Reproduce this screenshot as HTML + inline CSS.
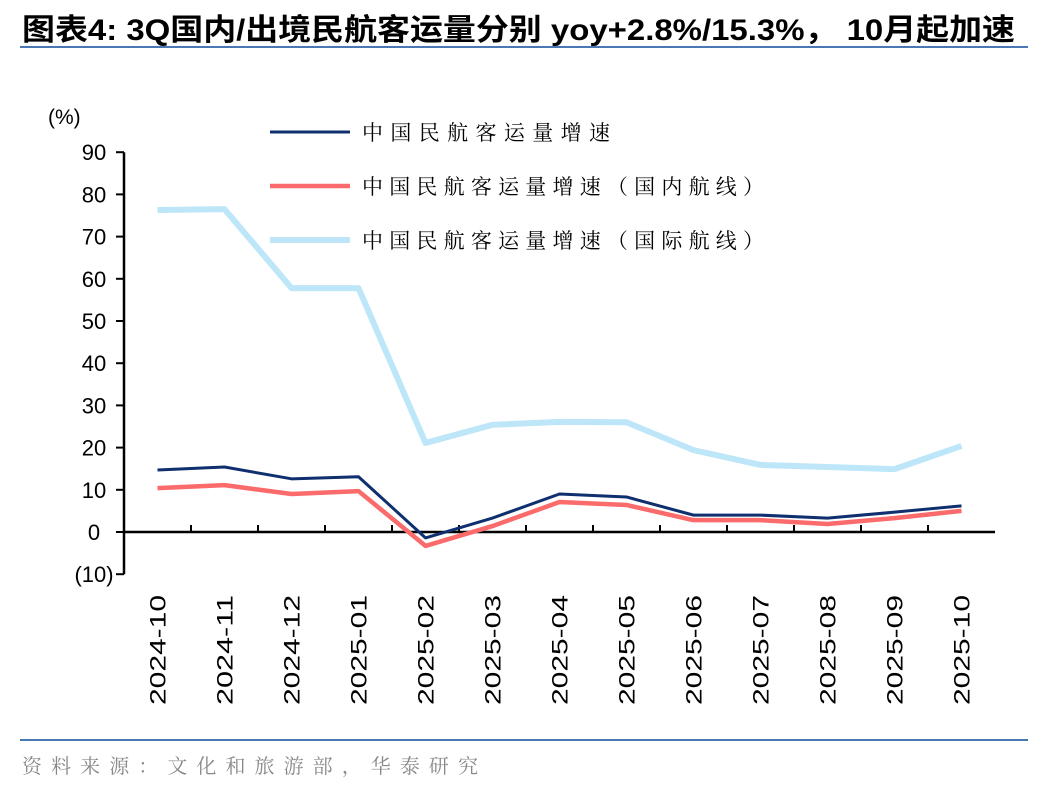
<!DOCTYPE html>
<html><head><meta charset="utf-8"><style>
body{margin:0;background:#fff;width:1048px;height:792px;overflow:hidden;font-family:"Liberation Sans","Noto Sans CJK SC",sans-serif;}
</style></head><body>
<svg width="1048" height="792" xmlns="http://www.w3.org/2000/svg">
<text x="22" y="40" font-size="30" font-weight="bold" fill="#000" textLength="993" lengthAdjust="spacingAndGlyphs" font-family="Liberation Sans, Noto Sans CJK SC, sans-serif">图表4:  3Q国内/出境民航客运量分别 yoy+2.8%/15.3%， 10月起加速</text>
<line x1="20" y1="47" x2="1028" y2="47" stroke="#4a78b5" stroke-width="2"/>
<line x1="20" y1="740" x2="1028" y2="740" stroke="#4a78b5" stroke-width="2"/>
<text x="22" y="773" font-size="20" fill="#888" textLength="456" lengthAdjust="spacing" font-family="Noto Serif CJK SC, serif">资料来源：文化和旅游部，华泰研究</text>
<text x="48" y="124" font-size="21">(%)</text>
<g id="axes"></g>
<g id="legend"></g>
</svg>
<script>
const categories=["2024-10","2024-11","2024-12","2025-01","2025-02","2025-03","2025-04","2025-05","2025-06","2025-07","2025-08","2025-09","2025-10"];
const totalSeries=[14.7,15.4,12.6,13.1,-1.4,3.3,9.0,8.3,4.0,4.0,3.3,4.7,6.2];
const domesticSeries=[10.4,11.1,9.0,9.7,-3.3,1.4,7.1,6.4,2.8,2.8,1.9,3.3,5.0];
const intlSeries=[76.3,76.5,57.8,57.8,21.1,25.4,26.1,26.0,19.4,15.9,15.4,14.9,20.4];
const yTicks=[-10,0,10,20,30,40,50,60,70,80,90];
const yTickLabels=["(10)","0","10","20","30","40","50","60","70","80","90"];
const seriesNames=["中国民航客运量增速","中国民航客运量增速（国内航线）","中国民航客运量增速（国际航线）"];
const NS="http://www.w3.org/2000/svg";
const X0=124,CW=67,Y0=532,PX=4.22;
const xs=i=>X0+CW*(i+0.5);
const ys=v=>Y0-v*PX;
const g=document.getElementById('axes');
function mk(t,a,p){const e=document.createElementNS(NS,t);for(const k in a)e.setAttribute(k,a[k]);(p||g).appendChild(e);return e;}
let e=mk('line',{x1:X0,y1:ys(90),x2:X0,y2:ys(-10),stroke:'#000','stroke-width':2.5});


e=mk('line',{x1:X0,y1:Y0,x2:X0+CW*categories.length,y2:Y0,stroke:'#000','stroke-width':2.5});


yTicks.forEach((v,i)=>{
 mk('line',{x1:X0-8,y1:ys(v),x2:X0,y2:ys(v),stroke:'#000','stroke-width':2});
 const t=mk('text',{x:X0-30,y:ys(v)+8,'font-size':22,'text-anchor':'middle'});
 t.textContent=yTickLabels[i];
 
 
});
categories.forEach((c,i)=>{
 if(i>0)mk('line',{x1:X0+CW*i,y1:Y0,x2:X0+CW*i,y2:Y0-7,stroke:'#000','stroke-width':2});
 const t=mk('text',{x:0,y:0,'font-size':22,'text-anchor':'end',textLength:110,lengthAdjust:'spacingAndGlyphs',transform:`translate(${xs(i)+8},595) rotate(-90)`});
 t.textContent=c;
 
 
});
const colors=["#0f2f6e","#fb6b6b","#bde6f8"];
const widths=[3,4.5,6];
const data=[totalSeries,domesticSeries,intlSeries];
const legendLens=[248,402,402];
[2,1,0].forEach(s=>{
 const p=mk('polyline',{points:data[s].map((v,i)=>xs(i)+','+ys(v)).join(' '),fill:'none',stroke:colors[s],'stroke-width':widths[s],'stroke-linejoin':'round'});
 
 
});
const lg=document.getElementById('legend');
seriesNames.forEach((n,i)=>{
 const y=132+i*54;
 const l=mk('line',{x1:270,y1:y,x2:350,y2:y,stroke:colors[i],'stroke-width':widths[i]},lg);
 
 
 const t=mk('text',{x:362,y:y+8,'font-size':21,textLength:legendLens[i],lengthAdjust:'spacing','font-family':'Noto Serif CJK SC, serif'},lg);
 t.textContent=n;
 
 
});
</script>
</body></html>
